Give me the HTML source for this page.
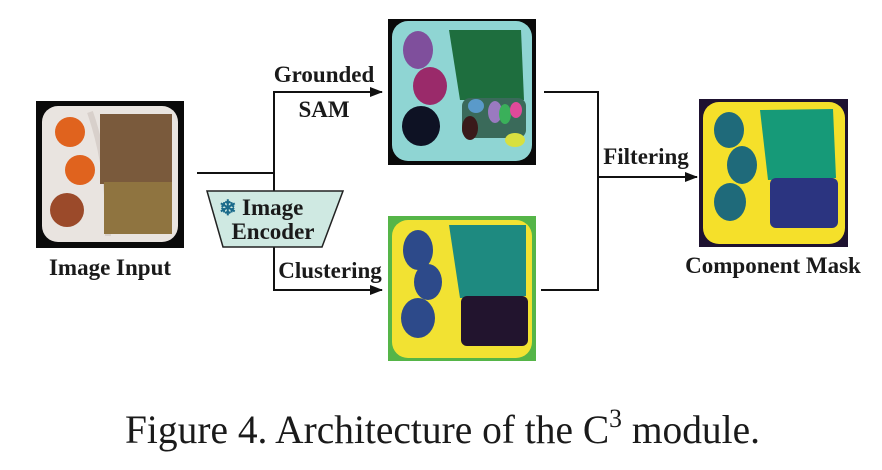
<!DOCTYPE html>
<html><head><meta charset="utf-8"><style>
html,body{margin:0;padding:0;background:#fff;}
svg{display:block}
</style></head><body>
<svg width="882" height="470" viewBox="0 0 882 470" xmlns="http://www.w3.org/2000/svg">
<defs>
<marker id="ar" markerWidth="13" markerHeight="10" refX="12" refY="5" orient="auto" markerUnits="userSpaceOnUse"><path d="M0,0 L13,5 L0,10 z" fill="#111"/></marker>
</defs>
<!-- input image -->
<rect x="36" y="101" width="148" height="147" fill="#0a0a0a"/>
<rect x="42" y="106" width="136" height="136" rx="16" fill="#e9e4e0"/>
<path d="M90 112 Q110 170 108 236" stroke="#d8d0cb" stroke-width="6" fill="none"/>
<rect x="100" y="114" width="72" height="70" fill="#7a5a3c"/>
<rect x="104" y="182" width="68" height="52" fill="#8f7440"/>
<circle cx="70" cy="132" r="15" fill="#e0631e"/>
<circle cx="80" cy="170" r="15" fill="#e0631e"/>
<circle cx="67" cy="210" r="17" fill="#9b4a2a"/>
<!-- connectors -->
<g stroke="#111" stroke-width="2" fill="none">
<line x1="197" y1="173" x2="274" y2="173"/>
<line x1="274" y1="92" x2="274" y2="191"/>
<line x1="274" y1="247" x2="274" y2="291"/>
<line x1="273" y1="92" x2="382" y2="92" marker-end="url(#ar)"/>
<line x1="273" y1="290" x2="382" y2="290" marker-end="url(#ar)"/>
<line x1="544" y1="92" x2="599" y2="92"/>
<line x1="541" y1="290" x2="599" y2="290"/>
<line x1="598" y1="91" x2="598" y2="291"/>
<line x1="597" y1="177" x2="697" y2="177" marker-end="url(#ar)"/>
</g>
<!-- encoder -->
<polygon points="207,191 343,191 322,247 223,247" fill="#cfe9e2" stroke="#222" stroke-width="1.5"/>
<text x="219" y="215" font-family="Liberation Serif" font-weight="bold" font-size="21" fill="#1a6a8a">❄</text>
<text x="242" y="215" font-family="Liberation Serif" font-weight="bold" font-size="23" fill="#1a1a1a">Image</text>
<text x="273" y="239" font-family="Liberation Serif" font-weight="bold" font-size="23" fill="#1a1a1a" text-anchor="middle">Encoder</text>
<!-- SAM image -->
<rect x="388" y="19" width="148" height="146" fill="#0a0a0a"/>
<rect x="392" y="21" width="140" height="140" rx="16" fill="#8fd5d3"/>
<ellipse cx="418" cy="50" rx="15" ry="19" fill="#7f4f9c"/>
<ellipse cx="430" cy="86" rx="17" ry="19" fill="#9a2a6a"/>
<ellipse cx="421" cy="126" rx="19" ry="20" fill="#0e1224"/>
<polygon points="449,30 521,30 524,100 460,100" fill="#1e6e3e"/>
<rect x="462" y="98" width="64" height="40" rx="8" fill="#3a6a5a"/>
<ellipse cx="476" cy="106" rx="8" ry="7" fill="#5a9aca"/>
<ellipse cx="495" cy="112" rx="7" ry="11" fill="#9a7ac0"/>
<ellipse cx="505" cy="114" rx="6" ry="10" fill="#3ab05a"/>
<ellipse cx="516" cy="110" rx="6" ry="8" fill="#e04a9a"/>
<ellipse cx="515" cy="140" rx="10" ry="7" fill="#d8e040"/>
<ellipse cx="470" cy="128" rx="8" ry="12" fill="#3a1a1a"/>
<!-- cluster image -->
<rect x="388" y="216" width="148" height="145" fill="#55b548"/>
<rect x="392" y="220" width="140" height="138" rx="16" fill="#f2e232"/>
<ellipse cx="418" cy="250" rx="15" ry="20" fill="#2d4a8a"/>
<ellipse cx="428" cy="282" rx="14" ry="18" fill="#2d4a8a"/>
<ellipse cx="418" cy="318" rx="17" ry="20" fill="#2d4a8a"/>
<polygon points="449,225 526,225 526,296 460,298" fill="#1e8a80"/>
<rect x="461" y="296" width="67" height="50" rx="6" fill="#22142e"/>
<!-- output image -->
<rect x="699" y="99" width="149" height="148" fill="#1e1230"/>
<rect x="703" y="102" width="142" height="142" rx="16" fill="#f5e02a"/>
<ellipse cx="729" cy="130" rx="15" ry="18" fill="#1f6a7a"/>
<ellipse cx="742" cy="165" rx="15" ry="19" fill="#1f6a7a"/>
<ellipse cx="730" cy="202" rx="16" ry="19" fill="#1f6a7a"/>
<polygon points="760,110 833,109 836,178 768,180" fill="#169a78"/>
<rect x="770" y="178" width="68" height="50" rx="6" fill="#2b3480"/>
<!-- labels -->
<g font-family="Liberation Serif" font-weight="bold" font-size="23" fill="#1a1a1a">
<text x="324" y="82" text-anchor="middle">Grounded</text>
<text x="324" y="117" text-anchor="middle">SAM</text>
<text x="330" y="278" text-anchor="middle">Clustering</text>
<text x="646" y="164" text-anchor="middle">Filtering</text>
<text x="110" y="275" text-anchor="middle">Image Input</text>
<text x="773" y="273" text-anchor="middle">Component Mask</text>
</g>
<text x="125" y="443" font-family="Liberation Serif" font-size="40" fill="#1a1a1a" textLength="635" lengthAdjust="spacingAndGlyphs">Figure 4. Architecture of the C<tspan font-size="26" dy="-16">3</tspan><tspan dy="16"> module.</tspan></text>
</svg>
</body></html>
